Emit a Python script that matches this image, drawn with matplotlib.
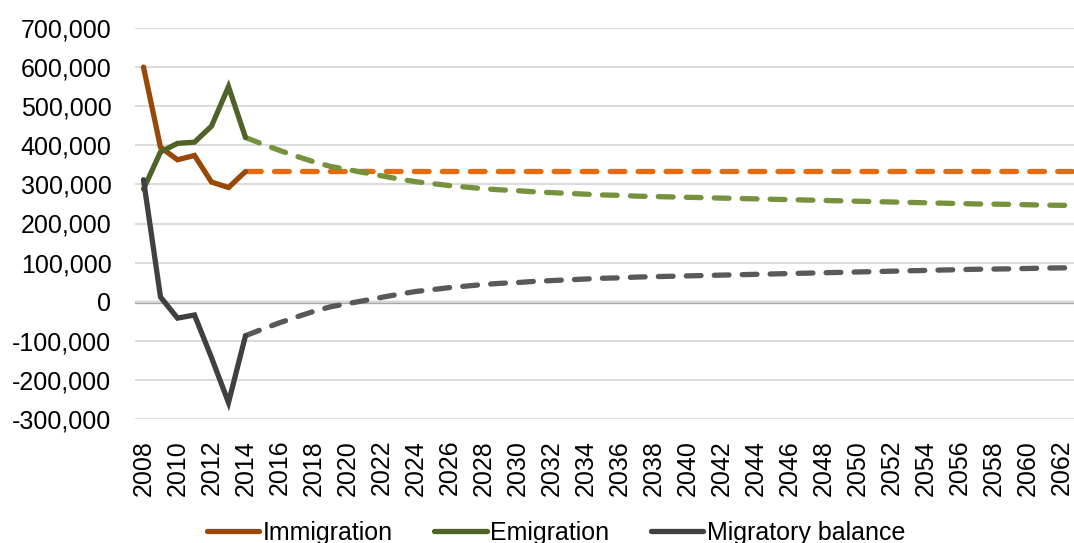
import matplotlib
matplotlib.use("Agg")
import matplotlib.pyplot as plt
from matplotlib.lines import Line2D
from matplotlib.ticker import FuncFormatter, MultipleLocator

# observed years and values
years_obs = list(range(2008, 2015))
immigration_obs = [600000, 395000, 363000, 374000, 306000, 292000, 333000]
emigration_obs = [288000, 383000, 405000, 408000, 449000, 550000, 420000]
balance_obs = [312000, 12000, -42000, -34000, -143000, -258000, -87000]

# projected years and values
years_proj = list(range(2014, 2064))
immigration_proj = [333000] * len(years_proj)
emigration_proj = [
    420000, 403000, 387000, 372000, 358000, 346000, 338000, 330000, 322000, 314000,
    307000, 302000, 297000, 293000, 289000, 286000, 284000, 281000, 279000, 277000,
    275000, 273000, 272000, 270000, 269000, 268000, 267000, 266000, 265000, 264000,
    263000, 262000, 261000, 260000, 259000, 258000, 257000, 256000, 255000, 254000,
    253000, 252000, 251000, 250000, 249500, 249000, 248000, 247000, 246500, 246000,
]
balance_proj = [
    -87000, -70000, -54000, -39000, -25000, -13000, -5000, 3000, 11000, 19000,
    26000, 31000, 36000, 40000, 44000, 47000, 49000, 52000, 54000, 56000,
    58000, 60000, 61000, 63000, 64000, 65000, 66000, 67000, 68000, 69000,
    70000, 71000, 72000, 73000, 74000, 75000, 76000, 77000, 78000, 79000,
    80000, 81000, 82000, 83000, 83500, 84000, 85000, 86000, 86500, 87000,
]

labels = ["Immigration", "Emigration", "Migratory balance"]
solid_colors = ["#984807", "#4F6228", "#404040"]
dash_colors = ["#E46C0A", "#76923C", "#595959"]

plt.rcParams["font.family"] = ["Liberation Sans", "DejaVu Sans"]

fig = plt.figure(figsize=(10.74, 5.43), dpi=100)
ax = fig.add_axes([135 / 1074, 1 - 419 / 543, 1 - 135 / 1074, (419 - 28) / 543])

lw = 3.8
obs = [immigration_obs, emigration_obs, balance_obs]
proj = [immigration_proj, emigration_proj, balance_proj]
for i in range(3):
    ax.plot(years_proj, proj[i], color=dash_colors[i], lw=lw,
            dashes=(2.8, 2.5), dash_capstyle="round", zorder=3)
    ax.plot(years_obs, obs[i], color=solid_colors[i], lw=lw,
            solid_capstyle="round", solid_joinstyle="miter", zorder=4)

ax.set_ylim(-300000, 700000)
ax.set_xlim(2007.5, 2007.5 + (1074 - 135) / 17)
ax.yaxis.set_major_locator(MultipleLocator(100000))
ax.yaxis.set_major_formatter(FuncFormatter(lambda v, p: "{:,.0f}".format(v)))
ax.set_xticks(list(range(2008, 2063, 2)))
ax.tick_params(axis="x", rotation=90, length=0, pad=15, labelsize=18)
ax.tick_params(axis="y", length=0, pad=17, labelsize=18)

ax.grid(axis="y", color="#D9D9D9", lw=1.3, zorder=0)
ax.axhline(0, color="#A6A6A6", lw=2.4, zorder=1)
for s in ax.spines.values():
    s.set_visible(False)

handles = [Line2D([], [], color=c, lw=lw, solid_capstyle="round") for c in solid_colors]
fig.legend(handles, labels, loc="center", bbox_to_anchor=(556 / 1074, 1 - 533 / 543),
           ncol=3, frameon=False, fontsize=18, handlelength=2.1, handletextpad=0.15,
           columnspacing=1.65, borderaxespad=0, borderpad=0)

fig.savefig("out.png", dpi=100)
